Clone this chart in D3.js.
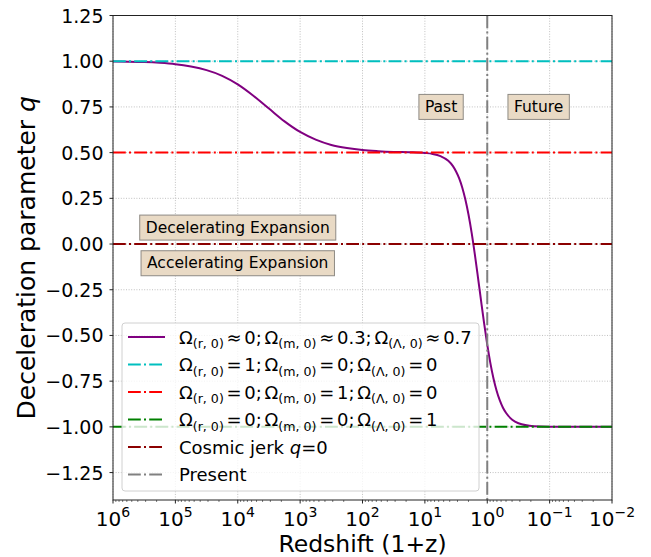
<!DOCTYPE html>
<html>
<head>
<meta charset="utf-8">
<script src="https://cdn.jsdelivr.net/npm/d3@7"></script>
<style>
  body { margin: 0; background: #fff; }
  svg { display: block; font-family: "DejaVu Sans", sans-serif; }
</style>
</head>
<body>
<div id="chart"></div>
<script>
// log10(1+z) sample positions and q
var redshiftExp = [6, 5.75, 5.5, 5.25, 5, 4.75, 4.5, 4.25, 4, 3.75, 3.5, 3.25, 3, 2.75, 2.5, 2.25, 2, 1.75, 1.5, 1.25, 1,
  0.875, 0.75, 0.625, 0.55, 0.5, 0.45, 0.4, 0.35, 0.3, 0.25, 0.2, 0.15, 0.1, 0.05, 0, -0.05, -0.1, -0.15, -0.2, -0.25, -0.3,
  -0.4, -0.5, -0.75, -1, -1.5, -2];
var qLambdaCDM = [0.998, 0.997, 0.995, 0.991, 0.984, 0.971, 0.951, 0.920, 0.873, 0.811, 0.741, 0.671, 0.613, 0.571, 0.542, 0.525, 0.514, 0.508, 0.504, 0.502, 0.498,
  0.493, 0.481, 0.455, 0.426, 0.397, 0.359, 0.308, 0.242, 0.160, 0.061, -0.054, -0.179, -0.308, -0.434, -0.550, -0.651, -0.735, -0.802, -0.854, -0.894, -0.923,
  -0.961, -0.980, -0.996, -0.999, -1.000, -1.000];

// constant-q reference models and the present epoch
var refQ = [1, 0.5, -1, 0];
var presentOnePlusZ = 1;

var legendLabels = [
  [['Ω'], ['(r, 0)', 1], [' ≈ 0; Ω'], ['(m, 0)', 1], [' ≈ 0.3; Ω'], ['(Λ, 0)', 1], [' ≈ 0.7']],
  [['Ω'], ['(r, 0)', 1], [' = 1; Ω'], ['(m, 0)', 1], [' = 0; Ω'], ['(Λ, 0)', 1], [' = 0']],
  [['Ω'], ['(r, 0)', 1], [' = 0; Ω'], ['(m, 0)', 1], [' = 1; Ω'], ['(Λ, 0)', 1], [' = 0']],
  [['Ω'], ['(r, 0)', 1], [' = 0; Ω'], ['(m, 0)', 1], [' = 0; Ω'], ['(Λ, 0)', 1], [' = 1']],
  [['Cosmic jerk '], ['q', 2], ['=0']],
  [['Present']]
];

var xTickExp = [6, 5, 4, 3, 2, 1, 0, -1, -2];
var yTicks = [-1.25, -1, -0.75, -0.5, -0.25, 0, 0.25, 0.5, 0.75, 1, 1.25];

var boxNotes = [
  {text: 'Past', x: 5.5, q: 0.75},
  {text: 'Future', x: 0.15, q: 0.75},
  {text: 'Decelerating Expansion', x: 1e4, q: 0.09},
  {text: 'Accelerating Expansion', x: 1e4, q: -0.105}
];

(function(){

var width = 651, height = 557;
var mLeft = 113, mRight = 612, mTop = 15.5, mBottom = 500;

var colors = ['#800080', '#00bfbf', '#ff0000', '#008000', '#8b0000', '#808080'];
var dashDot = '12.8,3.2,2,3.2';

var svg = d3.select('#chart').append('svg')
  .attr('width', width).attr('height', height);

var x = d3.scaleLog().domain([1e6, 1e-2]).range([mLeft, mRight]);
var y = d3.scaleLinear().domain([-1.4, 1.25]).range([mBottom, mTop]);

// grid
var grid = svg.append('g').attr('stroke', '#b0b0b0').attr('stroke-width', 0.8)
  .attr('stroke-dasharray', '1,1.6');
xTickExp.forEach(function(e) {
  grid.append('line').attr('x1', x(Math.pow(10, e))).attr('x2', x(Math.pow(10, e)))
    .attr('y1', mTop).attr('y2', mBottom);
});
yTicks.forEach(function(v) {
  grid.append('line').attr('x1', mLeft).attr('x2', mRight)
    .attr('y1', y(v)).attr('y2', y(v));
});

var plot = svg.append('g');

var curve = redshiftExp.map(function(e, i) { return [Math.pow(10, e), qLambdaCDM[i]]; });
var line = d3.line()
  .x(function(d) { return x(d[0]); })
  .y(function(d) { return y(d[1]); })
  .curve(d3.curveMonotoneX);

plot.append('path').datum(curve)
  .attr('d', line)
  .attr('fill', 'none')
  .attr('stroke', colors[0])
  .attr('stroke-width', 2);

refQ.forEach(function(q, i) {
  plot.append('line')
    .attr('x1', mLeft).attr('x2', mRight)
    .attr('y1', y(q)).attr('y2', y(q))
    .attr('stroke', colors[i + 1])
    .attr('stroke-width', 2)
    .attr('stroke-dasharray', dashDot);
});

plot.append('line')
  .attr('x1', x(presentOnePlusZ)).attr('x2', x(presentOnePlusZ))
  .attr('y1', mTop).attr('y2', mBottom)
  .attr('stroke', colors[5])
  .attr('stroke-width', 2)
  .attr('stroke-dasharray', dashDot);

// text boxes
boxNotes.forEach(function(d) {
  var g = svg.append('g');
  var t = g.append('text')
    .attr('x', x(d.x)).attr('y', y(d.q))
    .attr('text-anchor', 'middle')
    .attr('dominant-baseline', 'central')
    .attr('font-size', 15.5)
    .attr('fill', '#000')
    .text(d.text);
  var bb = t.node().getBBox();
  g.insert('rect', 'text')
    .attr('x', bb.x - 6).attr('y', y(d.q) - 12.5)
    .attr('width', bb.width + 12).attr('height', 25)
    .attr('fill', '#e9dac5')
    .attr('stroke', '#8e8a84')
    .attr('stroke-width', 1);
});

// legend
var lg = svg.append('g');
lg.append('rect')
  .attr('x', 122).attr('y', 323).attr('width', 357).attr('height', 168)
  .attr('rx', 3)
  .attr('fill', '#fff').attr('fill-opacity', 0.8)
  .attr('stroke', '#d0d0d0').attr('stroke-width', 1);

legendLabels.forEach(function(parts, i) {
  var ly = 337 + i * 27.5;
  lg.append('line')
    .attr('x1', 128).attr('x2', 165)
    .attr('y1', ly).attr('y2', ly)
    .attr('stroke', colors[i])
    .attr('stroke-width', 2)
    .attr('stroke-dasharray', i == 0 ? null : dashDot);
  var t = lg.append('text')
    .attr('x', 179).attr('y', ly + 6.5)
    .attr('font-size', 18);
  var shifted = false;
  parts.forEach(function(p) {
    var ts = t.append('tspan').text(p[0]);
    if (p[1] == 1) {
      ts.attr('font-size', 12.6).attr('dy', shifted ? null : 4.5);
      shifted = true;
    } else {
      if (shifted) ts.attr('dy', -4.5);
      shifted = false;
      if (p[1] == 2) ts.attr('font-style', 'italic');
      else if (i < 4) ts.attr('word-spacing', '-3px');
    }
  });
});

// spines
svg.append('rect')
  .attr('x', mLeft).attr('y', mTop).attr('width', mRight - mLeft).attr('height', mBottom - mTop)
  .attr('fill', 'none').attr('stroke', '#222').attr('stroke-width', 1);

// y ticks
var yAxis = svg.append('g');
yTicks.forEach(function(v) {
  yAxis.append('line').attr('x1', mLeft - 3.5).attr('x2', mLeft)
    .attr('y1', y(v)).attr('y2', y(v)).attr('stroke', '#222');
  yAxis.append('text')
    .attr('x', mLeft - 9.5).attr('y', y(v))
    .attr('text-anchor', 'end')
    .attr('dominant-baseline', 'central')
    .attr('font-size', 19)
    .text(d3.format('.2f')(v).replace('-', '\u2212'));
});

// x ticks, major and minor
var xAxis = svg.append('g');
xTickExp.forEach(function(e, i) {
  var px = x(Math.pow(10, e));
  xAxis.append('line').attr('x1', px).attr('x2', px)
    .attr('y1', mBottom).attr('y2', mBottom + 3.5).attr('stroke', '#222');
  var t = xAxis.append('text')
    .attr('x', px).attr('y', mBottom + 26)
    .attr('text-anchor', 'middle')
    .attr('font-size', 20);
  t.append('tspan').text('10');
  t.append('tspan').attr('font-size', 14).attr('dy', -9)
    .text(String(e).replace('-', '\u2212'));
  if (i < xTickExp.length - 1) {
    for (var k = 2; k < 10; k++) {
      var mx = x(k * Math.pow(10, e - 1));
      xAxis.append('line').attr('x1', mx).attr('x2', mx)
        .attr('y1', mBottom).attr('y2', mBottom + 2).attr('stroke', '#222').attr('stroke-width', 0.6);
    }
  }
});

// axis labels
svg.append('text')
  .attr('x', (mLeft + mRight) / 2).attr('y', 552)
  .attr('text-anchor', 'middle')
  .attr('font-size', 23.5)
  .text('Redshift (1+z)');

var yl = svg.append('text')
  .attr('transform', 'translate(35,' + ((mTop + mBottom) / 2) + ') rotate(-90)')
  .attr('text-anchor', 'middle')
  .attr('font-size', 25);
yl.append('tspan').text('Deceleration parameter ');
yl.append('tspan').attr('font-style', 'italic').text('q');

})();
</script>
</body>
</html>
